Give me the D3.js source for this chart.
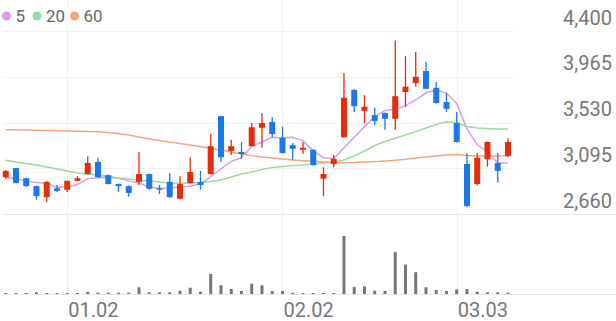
<!DOCTYPE html>
<html>
<head>
<meta charset="utf-8">
<script src="https://cdn.jsdelivr.net/npm/d3@7"></script>
<style>
  body { margin: 0; background: #fff; }
  svg { display: block; font-family: Roboto, sans-serif; }
</style>
</head>
<body>
<svg id="chart"></svg>
<script>
// daily candles, oldest first
const opens  = [3010,3097,3000,2925,2820,2905,2890,2975,3040,3155,3030,2945,2925,2965,3040,2905,2965,2805,2955,2965,
                3040,3590,3260,3250,3305,3480,3535,3385,3315,3270,3270,2995,3135,3390,3840,3640,3600,3620,3565,3820,
                3905,4020,3860,3725,3525,3135,2945,3180,3145,3210];
const highs  = [3075,3100,3005,2930,2975,2935,2980,3020,3210,3195,3035,2950,2930,3250,3045,2935,3050,3020,3200,3070,
                3420,3595,3365,3345,3525,3620,3580,3490,3335,3345,3275,3105,3220,4000,3845,3790,3670,3625,4310,4160,
                4200,4105,3915,3810,3630,3240,3240,3350,3240,3380];
const lows   = [2995,2950,2920,2795,2775,2870,2870,2970,3035,3005,2940,2870,2825,2935,2890,2850,2815,2800,2950,2890,
                3035,3155,3220,3185,3300,3290,3390,3235,3175,3230,3120,2830,3105,3385,3630,3525,3505,3460,3460,3680,
                3870,3845,3710,3630,3340,2730,2930,3110,2960,3205];
const closes = [3070,2955,2925,2830,2965,2880,2975,3000,3145,3010,2945,2925,2860,3040,2900,2890,2820,2945,3060,2935,
                3305,3200,3305,3230,3485,3525,3420,3240,3280,3290,3125,3040,3185,3765,3685,3680,3545,3565,3780,3870,
                3965,3850,3715,3660,3345,2735,3195,3345,3070,3345];
const volumes = [50,50,50,85,50,50,50,50,115,65,65,65,65,335,85,85,85,165,315,115,
                 1000,435,250,150,515,435,150,150,65,50,50,50,50,2890,350,385,165,150,2085,1465,
                 1085,335,200,150,235,250,115,85,85,65];

// moving averages as drawn
const ma5  = [3010,2995,2975,2960,2950,2915,2920,2940,2995,3005,3010,3000,2975,2955,2915,2905,2905,2920,2925,2945,
              3015,3090,3160,3195,3305,3345,3390,3385,3390,3355,3260,3195,3185,3290,3390,3490,3585,3645,3655,3690,
              3745,3810,3840,3810,3710,3470,3320,3250,3145,3145];
const ma20 = [3170,3155,3140,3126,3107,3088,3069,3050,3040,3031,3017,3002,2993,2983,2974,2964,2955,2952,2955,2960,
              2969,2983,3012,3040,3059,3083,3102,3112,3121,3126,3136,3145,3155,3174,3212,3259,3311,3349,3380,3411,
              3443,3478,3511,3535,3530,3492,3478,3473,3468,3468];
const ma60 = [3462,3460,3458,3456,3454,3452,3449,3447,3444,3442,3435,3425,3411,3392,3373,3359,3345,3330,3316,3300,
              3285,3269,3250,3231,3215,3202,3193,3183,3174,3167,3161,3155,3150,3148,3150,3155,3158,3164,3171,3180,
              3193,3202,3212,3221,3226,3216,3212,3212,3212,3216];

const maNames  = ["5", "20", "60"];
const maColors = ["#d69cec", "#93dca2", "#f7a47c"];
const yTicks = [2660, 3095, 3530, 3965, 4400];
const xTickIdx = [6, 27, 44];
const xTickLabels = ["01.02", "02.02", "03.03"];

const width = 616, height = 321;
const up = "#e52d0b", down = "#1a78ea";

const svg = d3.select("#chart").attr("width", width).attr("height", height);

const x = d3.scaleBand().domain(d3.range(closes.length)).range([0.6, 513.1]);
const cx = i => x(i) + x.bandwidth() / 2;
const y = d3.scaleLinear().domain([2660, 4400]).range([214, 31]);
const yv = d3.scaleLinear().domain([0, d3.max(volumes)]).range([294, 236]);

// grid
svg.append("g").selectAll("line").data(yTicks.slice(1)).enter().append("line")
   .attr("x1", 3).attr("x2", 513)
   .attr("y1", d => Math.round(y(d)) + 0.5).attr("y2", d => Math.round(y(d)) + 0.5)
   .attr("stroke", "#f1f1f1");
svg.append("g").selectAll("line").data(xTickIdx).enter().append("line")
   .attr("x1", d => Math.round(cx(d)) + 0.5).attr("x2", d => Math.round(cx(d)) + 0.5)
   .attr("y1", 0).attr("y2", 294)
   .attr("stroke", "#f1f1f1");
[y(2660), yv(0)].forEach(v => {
  svg.append("line").attr("x1", 3).attr("x2", width)
     .attr("y1", Math.round(v) + 0.5).attr("y2", Math.round(v) + 0.5)
     .attr("stroke", "#e8e8e8");
});

// right axis labels sit above their grid line
svg.append("g")
   .attr("transform", "translate(612,0)")
   .call(d3.axisRight(y).tickValues(yTicks).tickFormat(d3.format(",")).tickSize(0))
   .call(g => g.select(".domain").remove())
   .call(g => g.selectAll("text")
      .attr("x", 0).attr("dy", null).attr("y", -7)
      .attr("text-anchor", "end")
      .attr("fill", "#777")
      .attr("font-size", 20)
      .attr("font-family", "Roboto, sans-serif"));

// bottom labels, left aligned on the grid line
svg.append("g").selectAll("text").data(xTickIdx).enter().append("text")
   .attr("x", d => cx(d) + 1)
   .attr("y", 317)
   .attr("fill", "#777")
   .attr("font-size", 20)
   .text((d, i) => xTickLabels[i]);

// moving average lines
const line = d3.line().x((d, i) => cx(i)).y(d => y(d));
[ma5, ma20, ma60].forEach((ma, k) => {
  svg.append("path")
     .datum(ma)
     .attr("d", line)
     .attr("fill", "none")
     .attr("stroke", maColors[k])
     .attr("stroke-width", 1.5);
});

// candles
const idx = d3.range(closes.length);
const col = i => closes[i] >= opens[i] ? up : down;
svg.append("g").selectAll("line").data(idx).enter().append("line")
   .attr("x1", i => cx(i)).attr("x2", i => cx(i))
   .attr("y1", i => y(highs[i])).attr("y2", i => y(lows[i]))
   .attr("stroke", col)
   .attr("stroke-width", 1.3);
svg.append("g").selectAll("rect").data(idx).enter().append("rect")
   .attr("x", i => cx(i) - 3)
   .attr("width", 6)
   .attr("y", i => y(Math.max(opens[i], closes[i])))
   .attr("height", i => Math.max(1.5, Math.abs(y(opens[i]) - y(closes[i]))))
   .attr("fill", col);

// volume
svg.append("g").selectAll("rect").data(idx).enter().append("rect")
   .attr("x", i => cx(i) - 1.5)
   .attr("width", 3)
   .attr("y", i => yv(volumes[i]))
   .attr("height", i => yv(0) - yv(volumes[i]))
   .attr("fill", "#777");

// legend
const legend = svg.append("g").attr("transform", "translate(0,16)");
const legendX = [6.5, 37, 74.5];
maNames.forEach((n, k) => {
  legend.append("circle").attr("cx", legendX[k]).attr("cy", 0).attr("r", 4.5).attr("fill", maColors[k]);
  legend.append("text").attr("x", legendX[k] + 9).attr("y", 6)
        .attr("fill", "#666").attr("font-size", 17).text(n);
});
</script>
</body>
</html>
